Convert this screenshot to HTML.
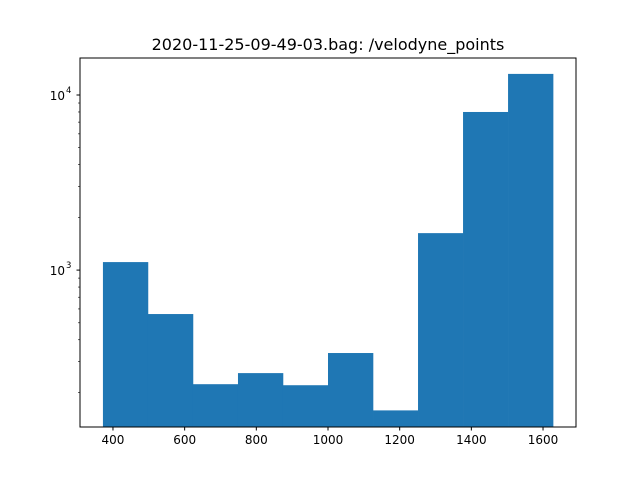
<!DOCTYPE html>
<html><head><meta charset="utf-8"><style>
body{margin:0;background:#fff;}
svg text{font-family:"DejaVu Sans","Liberation Sans",sans-serif;}
</style></head><body>
<svg id="chart" width="640" height="480" viewBox="0 0 640 480" xmlns="http://www.w3.org/2000/svg">
<rect width="640" height="480" fill="#fff"/>
<text x="328" y="50" font-size="16" text-anchor="middle">2020-11-25-09-49-03.bag: /velodyne_points</text>
<g id="bars"></g>
<g id="axes"></g>
</svg>
<script>
const binStart = 372;
const binEnd = 1628;
const counts = [1111, 561, 223, 258, 220, 336, 158, 1626, 8000, 13200];
const xTicks = [400, 600, 800, 1000, 1200, 1400, 1600];
const yMajorTicks = [1000, 10000];
const yMajorLabels = ["10", "10"];
const yMajorExp = ["3", "4"];

const L = 80, R = 576, T = 58, B = 427;
const xMin = 308, xMax = 1692;
const yMin = 127, yMax = 16270;
const NS = "http://www.w3.org/2000/svg";
function xs(v){ return L + (v - xMin) / (xMax - xMin) * (R - L); }
function ys(v){ return B - (Math.log10(v) - Math.log10(yMin)) / (Math.log10(yMax) - Math.log10(yMin)) * (B - T); }
function mk(tag, attrs, parent){ const e = document.createElementNS(NS, tag); for (const k in attrs) e.setAttribute(k, attrs[k]); parent.appendChild(e); return e; }

const bars = document.getElementById('bars');
const w = (binEnd - binStart) / counts.length;
counts.forEach((c, i) => {
  const x0 = xs(binStart + i * w), x1 = xs(binStart + (i + 1) * w), y = ys(c);
  const r = mk('rect', {x: x0, y: y, width: x1 - x0 + 0.3, height: B - y, fill: '#1f77b4'}, bars);
  
  
});

const ax = document.getElementById('axes');
const frame = mk('rect', {x: L, y: T, width: R - L, height: B - T, fill: 'none', stroke: '#000', 'stroke-width': 1}, ax);



xTicks.forEach(v => {
  const x = xs(v);
  mk('line', {x1: x, x2: x, y1: B, y2: B + 3.5, stroke: '#000'}, ax);
  const t = mk('text', {x: x, y: B + 17, 'font-size': 12, 'text-anchor': 'middle'}, ax);
  t.textContent = v;
  
  
});

yMajorTicks.forEach((v, i) => {
  const y = ys(v);
  mk('line', {x1: L - 3.5, x2: L, y1: y, y2: y, stroke: '#000'}, ax);
  const t = mk('text', {x: L - 15, y: y + 5, 'font-size': 12, 'text-anchor': 'end'}, ax);
  t.textContent = yMajorLabels[i];
  
  
  const e = mk('text', {x: L - 14, y: y - 2, 'font-size': 8.5, 'text-anchor': 'start'}, ax);
  e.textContent = yMajorExp[i];
});

for (let d = 100; d <= 10000; d *= 10) {
  for (let m = 2; m <= 9; m++) {
    const v = m * d;
    if (v < yMin || v > yMax) continue;
    const y = ys(v);
    mk('line', {x1: L - 2, x2: L, y1: y, y2: y, stroke: '#000', 'stroke-width': 0.6}, ax);
  }
}
</script>
</body></html>
